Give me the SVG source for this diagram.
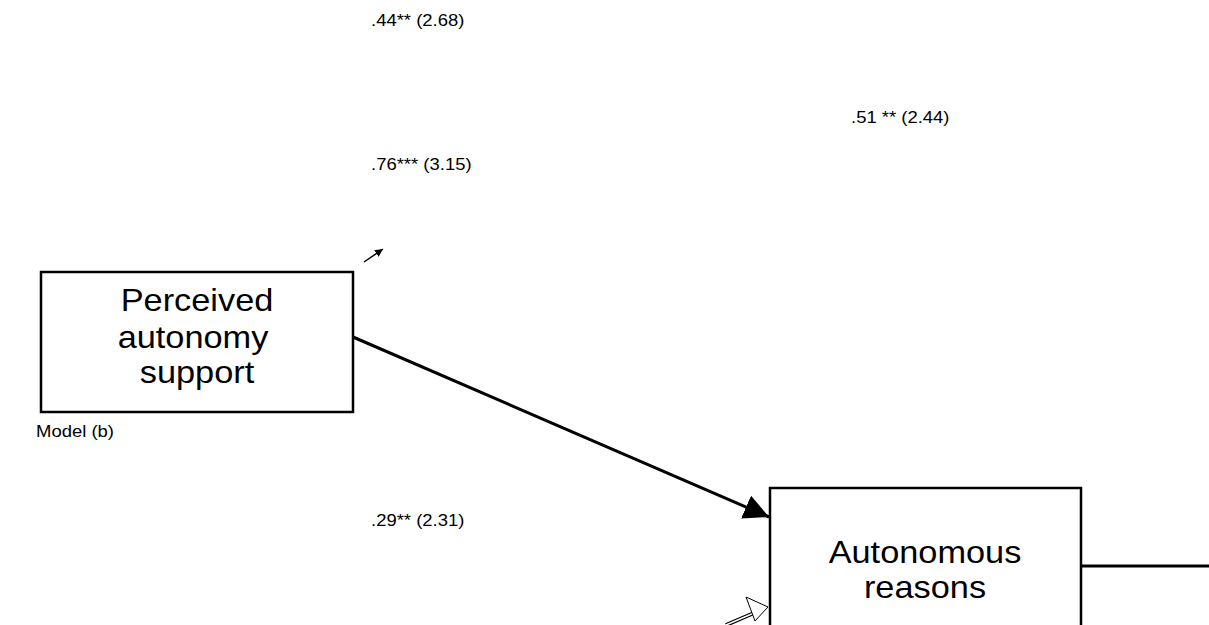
<svg xmlns="http://www.w3.org/2000/svg" width="1209" height="625" viewBox="0 0 1209 625">
<style>
.box{fill:#fff;stroke:#000;stroke-width:2.5}
.lbl{font-family:"Liberation Sans",Arial,sans-serif;font-size:31.5px;fill:#000;text-anchor:middle}
.coef{font-family:"Liberation Sans",Arial,sans-serif;font-size:16.5px;fill:#000}
.con{stroke:#000;fill:none}
</style>
<defs>
<marker id="fill" viewBox="0 0 10 10" refX="10" refY="5" markerWidth="8" markerHeight="8" markerUnits="userSpaceOnUse" orient="auto">
<path d="M0,0 L10,5 L0,10 z" fill="#000"/>
</marker>
<marker id="big" viewBox="0 0 10 10" refX="10" refY="5" markerWidth="25" markerHeight="25" markerUnits="userSpaceOnUse" orient="auto">
<path d="M0,0 L10,5 L0,10 z" fill="#000"/>
</marker>
</defs>
<rect width="1209" height="625" fill="#fff"/>
<g id="connectors">
<line class="con" x1="353" y1="337" x2="769" y2="517" stroke-width="3" marker-end="url(#big)"/>
<line class="con" x1="1081" y1="566" x2="1209" y2="566" stroke-width="3"/>
<line class="con" x1="364" y1="262" x2="383" y2="249" stroke-width="1.5" marker-end="url(#fill)"/>
<g id="open-arrow">
<line x1="726" y1="625" x2="754" y2="613" stroke="#000" stroke-width="4"/>
<line x1="726" y1="625" x2="754" y2="613" stroke="#fff" stroke-width="1.5"/>
<path d="M746,597 L768,607 L755,621 z" fill="#fff" stroke="#000" stroke-width="1"/>
</g>
</g>
<g id="node-perceived">
<rect class="box" x="41" y="272" width="312" height="140"/>
<text class="lbl" transform="translate(197,311) scale(1.09,1)">Perceived</text>
<text class="lbl" transform="translate(193,348) scale(1.09,1)">autonomy</text>
<text class="lbl" transform="translate(197,383) scale(1.09,1)">support</text>
</g>
<g id="node-autonomous">
<rect class="box" x="770" y="488" width="311" height="160"/>
<text class="lbl" transform="translate(925,563) scale(1.09,1)">Autonomous</text>
<text class="lbl" transform="translate(925,598) scale(1.09,1)">reasons</text>
</g>
<g id="labels">
<text class="coef" transform="translate(371,26) scale(1.12,1)">.44** (2.68)</text>
<text class="coef" transform="translate(851,123) scale(1.12,1)">.51 ** (2.44)</text>
<text class="coef" transform="translate(371,170) scale(1.12,1)">.76*** (3.15)</text>
<text class="coef" transform="translate(371,526) scale(1.12,1)">.29** (2.31)</text>
<text class="coef" transform="translate(36,437) scale(1.12,1)">Model (b)</text>
</g>
</svg>
